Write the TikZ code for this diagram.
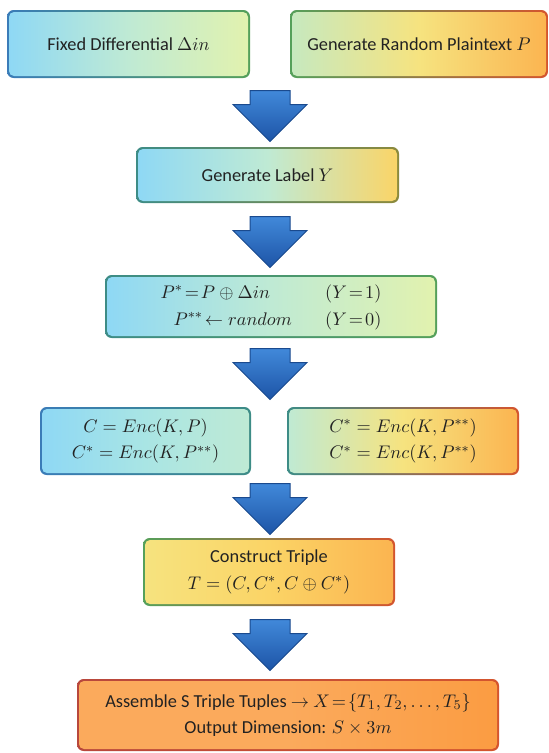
\documentclass[tikz,border=0pt]{standalone}
\usepackage{fontspec}
\setmainfont{Carlito}
\usetikzlibrary{shapes.arrows}

\definecolor{ink}{HTML}{222222}
\definecolor{sky}{HTML}{8ED8F5}
\definecolor{aqua}{HTML}{A9E5E4}
\definecolor{mint}{HTML}{BFEAD4}
\definecolor{pistachio}{HTML}{E2F2AE}
\definecolor{leaf}{HTML}{C6E9C0}
\definecolor{lemon}{HTML}{F6E37F}
\definecolor{sun}{HTML}{FBD466}
\definecolor{amber}{HTML}{FBB450}
\definecolor{peach}{HTML}{FBAA5C}
\definecolor{tang}{HTML}{FB9C42}
\definecolor{rimblue}{HTML}{3A7CB8}
\definecolor{rimteal}{HTML}{3D8C86}
\definecolor{rimgreen}{HTML}{55A05A}
\definecolor{rimolive}{HTML}{8C8A3C}
\definecolor{rimred}{HTML}{D4552E}
\definecolor{rimbrick}{HTML}{B8473C}
\definecolor{arrowtop}{HTML}{4189DA}
\definecolor{arrowbot}{HTML}{1D54A6}
\definecolor{arrowrim}{HTML}{1A4A8E}

\begin{document}
\begin{tikzpicture}[
    x=0.6pt, y=-0.6pt,
    box/.style={
        rectangle,
        rounded corners=4pt,
        align=center,
        text=ink,
        inner sep=2pt,
        font=\fontsize{11}{16}\selectfont
    },
    rim/.style 2 args={left color=#1, right color=#2},
    fillgrad/.style n args={3}{path picture={
        \shade[left color=#1, right color=#3, middle color=#2, rounded corners=3pt]
            ([shift={(1.2pt,1.2pt)}]path picture bounding box.south west) rectangle
            ([shift={(-1.2pt,-1.2pt)}]path picture bounding box.north east);}},
    bigarrow/.style={
        single arrow,
        shape border rotate=270,
        anchor=tail,
        minimum height=30.6pt,
        inner xsep=11.7pt,
        inner ysep=0pt,
        single arrow head extend=10.2pt,
        top color=arrowtop,
        bottom color=arrowbot,
        draw=arrowrim,
        line width=0.6pt
    }
]

\useasboundingbox (0,0) rectangle (549,753);

% top row
\node[box, rim={rimblue}{rimgreen}, fillgrad={sky}{mint}{pistachio},
      minimum width=145.8pt, minimum height=40.8pt] (fixdiff) at (128.5,44)
      {Fixed Differential $\Delta in$};
\node[box, rim={rimgreen}{rimred}, fillgrad={leaf}{lemon}{amber},
      minimum width=154.8pt, minimum height=40.8pt] (randpt) at (419,44)
      {Generate Random Plaintext $P$};

\node[box, rim={rimteal}{rimolive}, fillgrad={sky}{mint}{sun},
      minimum width=157.8pt, minimum height=33.6pt] (label) at (267.5,175)
      {Generate Label $Y$};

\node[box, rim={rimteal}{rimgreen}, fillgrad={sky}{mint}{pistachio},
      minimum width=199.2pt, minimum height=37.8pt] (pstar) at (271,306.5)
      {\begin{tabular}{@{}l@{\hspace{20pt}}l@{}}
       $P^{*}\!=\!P\oplus\Delta in$ & $(Y\!=\!1)$\\
       \hspace{7.8pt}$P^{**}\!\leftarrow random$ & $(Y\!=\!0)$
       \end{tabular}};

% encryption pair
\node[box, rim={rimblue}{rimteal}, fillgrad={sky}{aqua}{mint},
      minimum width=126.6pt, minimum height=40.8pt] (encl) at (145.5,441)
      {$C=Enc(K,P)$\\ $C^{*}=Enc(K,P^{**})$};
\node[box, rim={rimteal}{rimred}, fillgrad={mint}{lemon}{amber},
      minimum width=139.2pt, minimum height=40.8pt] (encr) at (403,441)
      {$C^{*}=Enc(K,P^{**})$\\ $C^{*}=Enc(K,P^{**})$};

\node[box, rim={rimgreen}{rimred}, fillgrad={lemon}{sun}{amber},
      minimum width=151.2pt, minimum height=40.8pt] (triple) at (269,572)
      {Construct Triple\\ $T=(C,C^{*},C\oplus C^{*})$};

\node[box, rim={rimbrick}{rimred}, fillgrad={peach}{peach}{tang},
      minimum width=253.2pt, minimum height=43.2pt] (assemble) at (288,715)
      {Assemble S Triple Tuples $\rightarrow$ $X\!=\!\{T_1,T_2,\dots,T_5\}$\\
       Output Dimension: $S\times 3m$};

% block arrows
\node[bigarrow] (a1) at (270,90) {};
\node[bigarrow] (a2) at (270,216) {};
\node[bigarrow] (a3) at (270,348) {};
\node[bigarrow] (a4) at (270,483) {};
\node[bigarrow] (a5) at (270,619) {};

\end{tikzpicture}
\end{document}
